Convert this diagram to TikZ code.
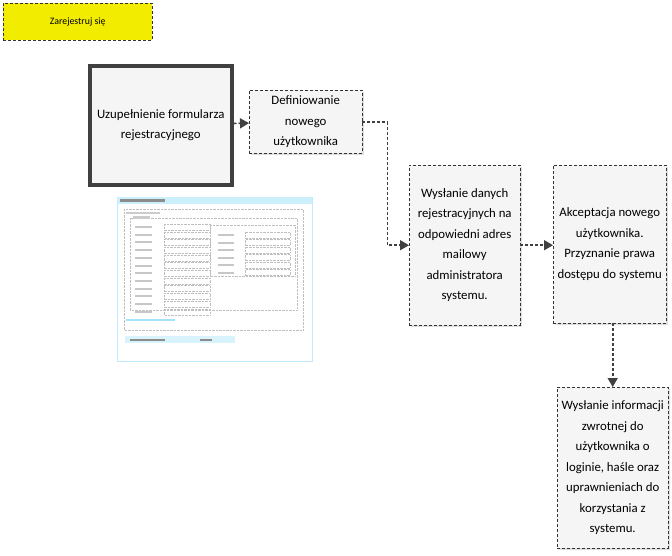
\documentclass[tikz,border=0pt]{standalone}
\usepackage{fontspec}
\setmainfont{Carlito}
\usetikzlibrary{arrows.meta,shadows}
\definecolor{zolty}{HTML}{F2EC00}
\begin{document}
\begin{tikzpicture}[x=1pt,y=-1pt,
    krok/.style={draw=black!80, densely dashed, fill=black!4, align=center, anchor=north west,
      inner sep=2pt, font=\fontsize{12.8}{20.5}\selectfont,
      drop shadow={opacity=0.25, shadow xshift=2pt, shadow yshift=-2pt}},
    strzalka/.style={-{Triangle[length=9pt,width=10pt]}, line width=1.6pt, draw=black!75, densely dashed},
    pole/.style={draw=black!25, densely dotted}]
    \useasboundingbox (0,0) rectangle (672,555);

    % Nagłówek
    \node[draw=black!80, densely dashed, fill=zolty, anchor=north west, minimum width=149pt,
      minimum height=37pt, font=\fontsize{9.8}{11}\selectfont] (start) at (3,3) {Zarejestruj się};

    % Kroki procesu
    \node[krok, draw=black!75, solid, line width=3.5pt, minimum width=142pt, minimum height=119pt] (uzup) at (88,64)
      {Uzupełnienie formularza\\rejestracyjnego};
    \node[krok, minimum width=113pt, minimum height=63pt] (def) at (249,90) {Definiowanie\\nowego\\użytkownika};
    \node[krok, minimum width=111pt, minimum height=160pt] (wys) at (409,165)
      {Wysłanie danych\\rejestracyjnych na\\odpowiedni adres\\mailowy\\administratora\\systemu.};
    \node[krok, minimum width=113pt, minimum height=158pt] (akc) at (553,165)
      {Akceptacja nowego\\użytkownika.\\Przyznanie prawa\\dostępu do systemu};
    \node[krok, minimum width=111pt, minimum height=161pt] (fin) at (557,387)
      {Wysłanie informacji\\zwrotnej do\\użytkownika o\\loginie, haśle oraz\\uprawnieniach do\\korzystania z\\systemu.};

    % Połączenia
    \draw[strzalka] (uzup) -- (def);
    \draw[strzalka] (def.east) -- ++(25,0) |- (wys.west);
    \draw[strzalka] (wys.east) -- (wys.east -| akc.west);
    \draw[strzalka] ([xshift=3pt]akc.south) -- ([xshift=3pt]akc.south |- fin.north);

    % Zrzut formularza
    \draw[draw=cyan!25, fill=white] (117,197) rectangle (312,361);
    \fill[cyan!20] (117,197) rectangle (312,204);
    \fill[black!45] (120,199) rectangle (165,202);
    \draw[pole] (124,209) rectangle (303,330);
    \fill[black!20] (126,212) rectangle (160,214);
    \draw[pole] (130,218) rectangle (297,310);
    \fill[black!20] (133,216) rectangle (150,219);
    \foreach \y in {226,233.7,...,312} {
        \fill[black!22] (135,\y) rectangle (152,\y+2);
        \draw[pole] (164,\y-2) rectangle (210,\y+4);
    }
    \draw[pole] (210,225) rectangle (295,276);
    \foreach \y in {234,241.5,...,273} {
        \fill[black!22] (218,\y) rectangle (234,\y+2);
        \draw[pole] (245,\y-2) rectangle (290,\y+4);
    }
    \fill[cyan!35] (126,319) rectangle (175,321);
    \fill[cyan!15] (125,336) rectangle (235,343);
    \fill[black!45] (130,338.5) rectangle (165,341);
    \fill[black!45] (200,338.5) rectangle (212,341);
\end{tikzpicture}
\end{document}
